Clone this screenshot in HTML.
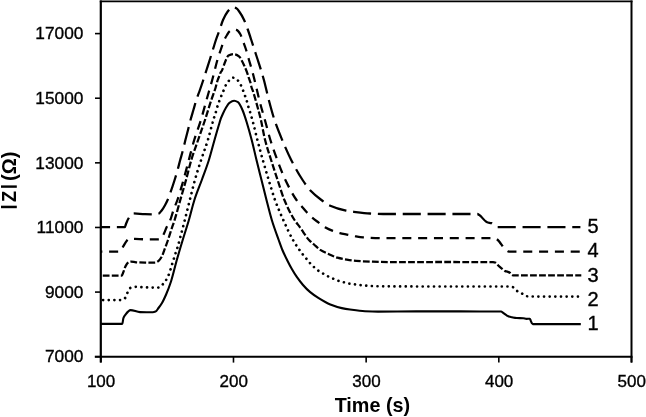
<!DOCTYPE html>
<html><head><meta charset="utf-8"><title>Impedance vs time</title><style>html,body{margin:0;padding:0;background:#fff;width:646px;height:417px;overflow:hidden}body{position:relative;font-family:"Liberation Sans", sans-serif}</style></head><body>
<svg width="646" height="417" viewBox="0 0 646 417" style="position:absolute;left:0;top:0;will-change:transform">
<defs><clipPath id="pc"><rect x="100.80" y="1.30" width="530.70" height="355.40"/></clipPath></defs>
<g clip-path="url(#pc)" fill="none" stroke="#000" stroke-linejoin="round">
<path d="M95.00,323.90 C104.10,323.90 113.20,323.90 122.30,323.90 C122.67,323.90 123.03,319.22 123.40,318.20 C123.97,316.62 124.53,315.84 125.10,315.10 C126.90,312.76 128.70,310.10 130.50,310.10 C133.67,310.10 136.83,312.05 140.00,312.10 C144.27,312.17 148.53,312.20 152.80,312.20 C153.70,312.20 154.60,311.93 155.50,311.60 C156.50,311.23 157.50,309.30 158.50,308.00 C159.67,306.48 160.83,304.97 162.00,303.00 C163.43,300.58 164.87,297.35 166.30,294.00 C167.87,290.34 169.43,286.32 171.00,281.50 C172.93,275.55 174.87,266.85 176.80,260.00 C178.77,253.03 180.73,246.50 182.70,240.00 C184.77,233.17 186.83,227.07 188.90,220.00 C190.73,213.72 192.57,205.73 194.40,200.00 C196.87,192.30 199.33,186.81 201.80,180.00 C204.17,173.47 206.53,167.49 208.90,160.00 C210.77,154.09 212.63,146.54 214.50,140.00 C216.00,134.74 217.50,129.47 219.00,124.50 C219.60,122.51 220.20,120.35 220.80,118.70 C221.50,116.78 222.20,115.22 222.90,113.70 C223.87,111.61 224.83,109.60 225.80,108.00 C227.00,106.01 228.20,103.73 229.40,102.90 C230.97,101.81 232.53,100.80 234.10,100.80 C235.40,100.80 236.70,101.43 238.00,102.20 C238.97,102.78 239.93,104.75 240.90,106.50 C241.63,107.83 242.37,109.64 243.10,111.50 C243.70,113.02 244.30,114.81 244.90,116.60 C245.50,118.39 246.10,120.31 246.70,122.30 C248.37,127.82 250.03,133.62 251.70,140.00 C253.30,146.13 254.90,153.47 256.50,160.00 C258.17,166.80 259.83,173.33 261.50,180.00 C263.17,186.67 264.83,193.53 266.50,200.00 C268.27,206.86 270.03,214.17 271.80,220.00 C274.10,227.58 276.40,233.59 278.70,240.00 C279.93,243.44 281.17,247.05 282.40,250.00 C284.00,253.83 285.60,257.01 287.20,260.20 C288.80,263.39 290.40,266.43 292.00,269.20 C293.60,271.97 295.20,274.59 296.80,276.90 C298.80,279.78 300.80,282.41 302.80,284.70 C305.17,287.41 307.53,289.91 309.90,291.90 C312.70,294.26 315.50,296.15 318.30,297.90 C322.30,300.41 326.30,302.91 330.30,304.50 C334.13,306.03 337.97,307.27 341.80,308.10 C344.53,308.69 347.27,309.12 350.00,309.50 C355.00,310.19 360.00,310.96 365.00,311.20 C369.33,311.41 373.67,311.60 378.00,311.60 C390.80,311.60 403.60,311.40 416.40,311.40 C430.93,311.40 445.47,311.40 460.00,311.40 C473.00,311.40 486.00,311.50 499.00,311.50 C499.73,311.50 500.47,311.50 501.20,311.50 C501.63,311.50 502.07,312.10 502.50,312.40 C504.10,313.52 505.70,314.85 507.30,315.80 C507.80,316.10 508.30,316.44 508.80,316.60 C509.87,316.95 510.93,317.11 512.00,317.30 C513.57,317.58 515.13,317.92 516.70,318.00 C518.90,318.12 521.10,318.07 523.30,318.20 C524.33,318.26 525.37,318.90 526.40,318.90 C527.57,318.90 528.73,318.70 529.90,318.70 C530.13,318.70 530.37,319.78 530.60,320.30 C531.07,321.34 531.53,322.73 532.00,323.30 C532.30,323.67 532.60,324.10 532.90,324.10 C535.27,324.10 537.63,324.10 540.00,324.10 C553.60,324.10 567.20,324.10 580.80,324.10" stroke-width="2.10"/>
<path d="M95.00,300.10 C103.67,300.10 112.33,300.10 121.00,300.10 C121.67,300.10 122.33,299.78 123.00,299.50 C123.73,299.19 124.47,298.72 125.20,297.90 C125.90,297.12 126.60,294.40 127.30,293.00 C128.27,291.07 129.23,288.43 130.20,288.00 C131.90,287.24 133.60,286.80 135.30,286.80 C138.53,286.80 141.77,287.19 145.00,287.30 C149.17,287.44 153.33,287.60 157.50,287.60 C158.33,287.60 159.17,287.32 160.00,287.00 C160.87,286.67 161.73,285.44 162.60,284.50 C163.70,283.30 164.80,282.00 165.90,280.30 C166.77,278.96 167.63,277.33 168.50,275.30 C169.60,272.73 170.70,268.64 171.80,265.20 C172.93,261.65 174.07,257.81 175.20,254.30 C176.03,251.72 176.87,249.55 177.70,246.80 C178.53,244.05 179.37,240.72 180.20,237.60 C181.73,231.86 183.27,226.00 184.80,220.00 C186.47,213.48 188.13,206.60 189.80,200.00 C191.50,193.27 193.20,186.04 194.90,180.00 C196.97,172.66 199.03,166.36 201.10,160.00 C203.37,153.02 205.63,147.46 207.90,140.00 C209.70,134.07 211.50,125.99 213.30,120.00 C214.10,117.34 214.90,115.27 215.70,112.60 C216.20,110.93 216.70,108.84 217.20,107.20 C217.80,105.23 218.40,103.48 219.00,101.80 C219.70,99.84 220.40,98.02 221.10,96.30 C221.83,94.50 222.57,92.96 223.30,91.20 C224.00,89.52 224.70,87.35 225.40,86.00 C226.43,84.00 227.47,82.32 228.50,81.20 C229.93,79.64 231.37,77.70 232.80,77.70 C234.37,77.70 235.93,78.87 237.50,80.10 C238.57,80.94 239.63,82.93 240.70,84.90 C241.43,86.25 242.17,88.15 242.90,90.00 C243.57,91.68 244.23,93.64 244.90,95.50 C245.50,97.18 246.10,98.66 246.70,100.60 C247.20,102.22 247.70,104.50 248.20,106.20 C248.77,108.13 249.33,109.66 249.90,111.50 C250.43,113.23 250.97,115.04 251.50,116.90 C252.00,118.64 252.50,120.42 253.00,122.30 C254.47,127.82 255.93,134.34 257.40,140.00 C259.20,146.95 261.00,153.62 262.80,160.00 C264.77,166.97 266.73,173.55 268.70,180.00 C270.80,186.89 272.90,194.21 275.00,200.00 C277.77,207.63 280.53,213.84 283.30,220.00 C286.53,227.20 289.77,234.43 293.00,240.00 C296.10,245.34 299.20,249.73 302.30,253.80 C303.60,255.50 304.90,256.93 306.20,258.50 C307.50,260.07 308.80,261.82 310.10,263.20 C312.73,266.00 315.37,268.59 318.00,270.50 C319.63,271.68 321.27,272.54 322.90,273.50 C324.57,274.48 326.23,275.47 327.90,276.30 C329.60,277.15 331.30,277.87 333.00,278.60 C334.80,279.37 336.60,280.22 338.40,280.80 C340.17,281.37 341.93,281.73 343.70,282.20 C345.47,282.67 347.23,283.28 349.00,283.60 C350.70,283.91 352.40,284.08 354.10,284.30 C357.40,284.73 360.70,285.26 364.00,285.50 C369.33,285.89 374.67,286.26 380.00,286.30 C400.00,286.45 420.00,286.50 440.00,286.50 C462.47,286.50 484.93,286.50 507.40,286.50 C509.27,286.50 511.13,286.77 513.00,287.20 C514.33,287.51 515.67,289.99 517.00,290.90 C518.63,292.01 520.27,292.53 521.90,293.50 C523.20,294.27 524.50,295.92 525.80,296.10 C527.63,296.35 529.47,296.49 531.30,296.50 C547.53,296.59 563.77,296.57 580.00,296.60" stroke-width="2.70" stroke-dasharray="0.01 5.64" stroke-dashoffset="3.20" stroke-linecap="round"/>
<path d="M95.00,275.70 C103.87,275.70 112.73,275.70 121.60,275.70 C121.83,275.70 122.07,275.19 122.30,274.80 C122.77,274.03 123.23,272.49 123.70,271.20 C124.10,270.09 124.50,268.56 124.90,267.60 C125.37,266.47 125.83,265.55 126.30,264.80 C126.80,264.00 127.30,263.21 127.80,262.80 C128.37,262.33 128.93,261.92 129.50,261.80 C130.00,261.69 130.50,261.60 131.00,261.60 C132.67,261.60 134.33,262.20 136.00,262.30 C139.00,262.47 142.00,262.55 145.00,262.60 C148.33,262.65 151.67,262.70 155.00,262.70 C156.13,262.70 157.27,261.82 158.40,261.00 C159.50,260.21 160.60,258.70 161.70,256.80 C162.57,255.30 163.43,252.39 164.30,250.10 C165.53,246.84 166.77,243.60 168.00,240.00 C169.07,236.89 170.13,233.23 171.20,230.00 C172.33,226.56 173.47,223.60 174.60,220.00 C176.50,213.96 178.40,206.67 180.30,200.00 C182.20,193.33 184.10,186.91 186.00,180.00 C187.77,173.57 189.53,165.87 191.30,160.00 C193.57,152.47 195.83,146.62 198.10,140.00 C200.40,133.28 202.70,126.97 205.00,120.00 C207.10,113.63 209.20,106.29 211.30,100.00 C212.70,95.80 214.10,92.54 215.50,88.00 C216.23,85.62 216.97,82.12 217.70,80.00 C218.23,78.46 218.77,77.52 219.30,76.10 C219.67,75.12 220.03,73.66 220.40,72.90 C220.87,71.94 221.33,71.58 221.80,70.70 C223.17,68.12 224.53,62.76 225.90,60.00 C226.77,58.25 227.63,56.03 228.50,55.60 C230.27,54.72 232.03,54.20 233.80,54.20 C235.63,54.20 237.47,55.22 239.30,56.60 C240.00,57.13 240.70,58.76 241.40,60.00 C242.40,61.78 243.40,63.78 244.40,66.00 C245.50,68.45 246.60,71.10 247.70,74.30 C248.07,75.37 248.43,76.78 248.80,77.90 C249.40,79.73 250.00,80.74 250.60,83.00 C250.83,83.88 251.07,85.62 251.30,86.50 C251.90,88.76 252.50,89.76 253.10,91.60 C253.93,94.15 254.77,97.06 255.60,100.00 C257.37,106.24 259.13,112.53 260.90,120.00 C262.30,125.92 263.70,134.45 265.10,140.00 C267.10,147.93 269.10,153.60 271.10,160.00 C273.27,166.94 275.43,173.48 277.60,180.00 C279.87,186.82 282.13,194.57 284.40,200.00 C287.77,208.07 291.13,214.75 294.50,220.00 C296.33,222.86 298.17,224.80 300.00,227.30 C303.00,231.39 306.00,236.77 309.00,240.00 C310.67,241.79 312.33,243.04 314.00,244.50 C316.10,246.35 318.20,248.56 320.30,249.90 C322.90,251.56 325.50,252.61 328.10,253.80 C331.20,255.22 334.30,256.85 337.40,257.70 C340.53,258.56 343.67,259.11 346.80,259.60 C349.93,260.09 353.07,260.54 356.20,260.80 C360.80,261.18 365.40,261.42 370.00,261.60 C376.00,261.83 382.00,262.10 388.00,262.10 C405.33,262.10 422.67,262.00 440.00,262.00 C457.67,262.00 475.33,262.01 493.00,262.10 C493.93,262.10 494.87,262.36 495.80,262.70 C496.70,263.03 497.60,264.93 498.50,265.80 C499.93,267.18 501.37,268.16 502.80,269.30 C503.57,269.91 504.33,270.84 505.10,271.10 C505.87,271.36 506.63,271.37 507.40,271.60 C508.20,271.84 509.00,272.25 509.80,272.80 C510.37,273.19 510.93,274.24 511.50,274.60 C512.00,274.92 512.50,275.28 513.00,275.30 C515.33,275.38 517.67,275.40 520.00,275.40 C540.43,275.40 560.87,275.40 581.30,275.40" stroke-width="2.26" stroke-dasharray="6.78 2.26" stroke-dashoffset="1.30"/>
<path d="M95.00,251.60 C103.33,251.60 111.67,251.60 120.00,251.60 C120.27,251.60 120.53,251.13 120.80,250.80 C121.57,249.86 122.33,248.00 123.10,246.70 C124.40,244.49 125.70,241.86 127.00,240.40 C127.43,239.91 127.87,239.37 128.30,239.20 C128.87,238.98 129.43,238.80 130.00,238.80 C131.67,238.80 133.33,238.86 135.00,238.90 C138.33,238.99 141.67,239.26 145.00,239.30 C149.60,239.36 154.20,239.40 158.80,239.40 C159.53,239.40 160.27,238.78 161.00,238.20 C162.00,237.41 163.00,235.41 164.00,233.50 C164.83,231.91 165.67,229.32 166.50,227.50 C167.77,224.74 169.03,223.08 170.30,220.00 C171.37,217.40 172.43,213.01 173.50,210.00 C174.80,206.33 176.10,203.71 177.40,200.00 C179.43,194.20 181.47,187.15 183.50,180.00 C185.27,173.79 187.03,166.60 188.80,160.00 C190.60,153.27 192.40,145.97 194.20,140.00 C196.43,132.59 198.67,127.28 200.90,120.00 C202.77,113.91 204.63,106.61 206.50,100.00 C208.40,93.27 210.30,86.98 212.20,80.00 C213.93,73.63 215.67,65.86 217.40,60.00 C218.43,56.51 219.47,53.51 220.50,50.50 C221.77,46.81 223.03,42.78 224.30,40.00 C225.20,38.03 226.10,36.48 227.00,35.00 C227.83,33.63 228.67,32.00 229.50,31.30 C230.67,30.31 231.83,29.30 233.00,29.30 C234.17,29.30 235.33,29.56 236.50,29.90 C237.83,30.29 239.17,32.23 240.50,34.50 C241.17,35.63 241.83,38.18 242.50,40.00 C243.67,43.19 244.83,45.92 246.00,49.50 C247.00,52.57 248.00,56.54 249.00,60.00 C250.17,64.04 251.33,67.69 252.50,72.00 C253.67,76.31 254.83,81.19 256.00,86.00 C257.10,90.53 258.20,95.70 259.30,100.00 C261.17,107.29 263.03,113.27 264.90,120.00 C266.73,126.61 268.57,134.06 270.40,140.00 C272.70,147.45 275.00,153.85 277.30,160.00 C280.00,167.22 282.70,174.33 285.40,180.00 C289.10,187.77 292.80,194.75 296.50,200.00 C298.20,202.41 299.90,204.18 301.60,206.20 C303.40,208.34 305.20,210.58 307.00,212.50 C308.83,214.46 310.67,216.33 312.50,217.90 C314.57,219.67 316.63,221.05 318.70,222.60 C320.80,224.18 322.90,226.09 325.00,227.30 C327.60,228.80 330.20,229.93 332.80,230.90 C335.13,231.77 337.47,232.51 339.80,233.10 C342.13,233.69 344.47,234.11 346.80,234.60 C349.40,235.15 352.00,235.77 354.60,236.20 C357.47,236.68 360.33,237.23 363.20,237.40 C371.47,237.88 379.73,238.20 388.00,238.20 C423.33,238.20 458.67,238.20 494.00,238.20 C494.50,238.20 495.00,238.36 495.50,238.50 C499.17,239.55 502.83,247.76 506.50,250.40 C507.00,250.76 507.50,251.21 508.00,251.30 C509.00,251.49 510.00,251.60 511.00,251.60 C534.00,251.69 557.00,251.67 580.00,251.70" stroke-width="2.26" stroke-dasharray="9.04 6.78" stroke-dashoffset="1.70"/>
<path d="M95.00,227.20 C104.90,227.20 114.80,227.20 124.70,227.20 C125.13,227.20 125.57,225.03 126.00,224.00 C126.77,222.19 127.53,220.14 128.30,218.80 C129.20,217.23 130.10,215.77 131.00,215.00 C131.87,214.26 132.73,213.40 133.60,213.40 C137.40,213.40 141.20,214.00 145.00,214.10 C148.80,214.20 152.60,214.30 156.40,214.30 C157.13,214.30 157.87,214.06 158.60,213.80 C159.73,213.39 160.87,211.50 162.00,210.00 C163.00,208.68 164.00,206.98 165.00,205.20 C165.87,203.66 166.73,201.97 167.60,200.00 C168.53,197.88 169.47,195.21 170.40,192.60 C171.80,188.68 173.20,184.46 174.60,180.00 C175.67,176.60 176.73,173.04 177.80,169.20 C178.60,166.32 179.40,162.93 180.20,160.00 C180.83,157.68 181.47,155.66 182.10,153.30 C182.83,150.57 183.57,147.59 184.30,144.60 C184.67,143.10 185.03,141.48 185.40,140.00 C186.27,136.51 187.13,133.40 188.00,130.00 C188.83,126.73 189.67,123.09 190.50,120.00 C191.47,116.41 192.43,113.33 193.40,110.00 C194.37,106.67 195.33,102.99 196.30,100.00 C197.50,96.29 198.70,93.43 199.90,90.00 C201.03,86.76 202.17,83.44 203.30,80.00 C204.37,76.77 205.43,73.33 206.50,70.00 C207.57,66.67 208.63,63.39 209.70,60.00 C210.73,56.72 211.77,53.33 212.80,50.00 C213.83,46.67 214.87,43.05 215.90,40.00 C217.13,36.36 218.37,33.48 219.60,30.00 C220.73,26.81 221.87,22.57 223.00,20.00 C224.57,16.45 226.13,13.56 227.70,11.50 C228.63,10.27 229.57,9.02 230.50,8.50 C231.67,7.84 232.83,7.20 234.00,7.20 C234.83,7.20 235.67,7.84 236.50,8.40 C237.40,9.01 238.30,10.28 239.20,11.50 C240.83,13.71 242.47,16.58 244.10,20.00 C245.27,22.44 246.43,25.78 247.60,29.00 C248.83,32.40 250.07,36.24 251.30,40.00 C252.37,43.25 253.43,46.72 254.50,50.00 C255.60,53.38 256.70,56.62 257.80,60.00 C258.87,63.28 259.93,66.50 261.00,70.00 C261.97,73.17 262.93,76.41 263.90,80.00 C265.53,86.06 267.17,93.82 268.80,100.00 C270.70,107.18 272.60,114.29 274.50,120.00 C277.07,127.72 279.63,133.84 282.20,140.00 C285.20,147.20 288.20,154.09 291.20,160.00 C295.00,167.49 298.80,174.26 302.60,180.00 C305.20,183.93 307.80,187.73 310.40,190.50 C314.07,194.41 317.73,197.25 321.40,200.00 C324.13,202.05 326.87,204.29 329.60,205.50 C335.07,207.92 340.53,209.52 346.00,210.60 C348.60,211.11 351.20,211.47 353.80,211.80 C359.20,212.49 364.60,213.26 370.00,213.50 C376.00,213.77 382.00,214.00 388.00,214.00 C417.77,214.00 447.53,214.00 477.30,214.00 C477.97,214.00 478.63,214.58 479.30,215.00 C481.63,216.45 483.97,220.43 486.30,221.80 C486.80,222.09 487.30,222.37 487.80,222.50 C488.97,222.81 490.13,222.75 491.30,223.10 C491.97,223.30 492.63,224.08 493.30,224.60 C494.13,225.24 494.97,226.25 495.80,226.60 C496.37,226.84 496.93,227.10 497.50,227.10 C501.67,227.10 505.83,227.10 510.00,227.10 C533.47,227.10 556.93,227.10 580.40,227.10" stroke-width="2.26" stroke-dasharray="18.08 6.78" stroke-dashoffset="3.00"/>
</g>
<g stroke="#000" fill="none">
<line x1="99.80" y1="1.30" x2="632.50" y2="1.30" stroke-width="1.7"/>
<line x1="631.50" y1="0.50" x2="631.50" y2="362.50" stroke-width="2"/>
<line x1="100.80" y1="0.50" x2="100.80" y2="362.50" stroke-width="2.2"/>
<line x1="94.80" y1="356.70" x2="632.50" y2="356.70" stroke-width="2"/>
<line x1="95.0" y1="356.70" x2="100.80" y2="356.70" stroke-width="1.6"/>
<line x1="95.0" y1="292.08" x2="100.80" y2="292.08" stroke-width="1.6"/>
<line x1="95.0" y1="227.46" x2="100.80" y2="227.46" stroke-width="1.6"/>
<line x1="95.0" y1="162.84" x2="100.80" y2="162.84" stroke-width="1.6"/>
<line x1="95.0" y1="98.22" x2="100.80" y2="98.22" stroke-width="1.6"/>
<line x1="95.0" y1="33.60" x2="100.80" y2="33.60" stroke-width="1.6"/>
<line x1="100.80" y1="356.70" x2="100.80" y2="362.6" stroke-width="1.6"/>
<line x1="233.48" y1="356.70" x2="233.48" y2="362.6" stroke-width="1.6"/>
<line x1="366.15" y1="356.70" x2="366.15" y2="362.6" stroke-width="1.6"/>
<line x1="498.82" y1="356.70" x2="498.82" y2="362.6" stroke-width="1.6"/>
<line x1="631.50" y1="356.70" x2="631.50" y2="362.6" stroke-width="1.6"/>
</g>
<g font-family='"Liberation Sans", sans-serif' fill="#000" stroke="#000" stroke-width="0.35">
<text x="83.40" y="362.40" font-size="17.3" text-anchor="end">7000</text>
<text x="83.40" y="297.78" font-size="17.3" text-anchor="end">9000</text>
<text x="83.40" y="233.16" font-size="17.3" text-anchor="end">11000</text>
<text x="83.40" y="168.54" font-size="17.3" text-anchor="end">13000</text>
<text x="83.40" y="103.92" font-size="17.3" text-anchor="end">15000</text>
<text x="83.40" y="39.30" font-size="17.3" text-anchor="end">17000</text>
<text x="101.10" y="386.90" font-size="17.0" text-anchor="middle">100</text>
<text x="233.78" y="386.90" font-size="17.0" text-anchor="middle">200</text>
<text x="366.45" y="386.90" font-size="17.0" text-anchor="middle">300</text>
<text x="499.12" y="386.90" font-size="17.0" text-anchor="middle">400</text>
<text x="631.80" y="386.90" font-size="17.0" text-anchor="middle">500</text>
<text x="587.60" y="233.00" font-size="20.0">5</text>
<text x="587.60" y="257.40" font-size="20.0">4</text>
<text x="587.60" y="281.60" font-size="20.0">3</text>
<text x="587.60" y="306.00" font-size="20.0">2</text>
<text x="587.60" y="329.50" font-size="20.0">1</text>
<text x="372.40" y="412.40" font-size="20.5" font-weight="bold" stroke="none" text-anchor="middle" textLength="75.5" lengthAdjust="spacingAndGlyphs">Time (s)</text>
<text transform="translate(16.00,166.30) rotate(-90)" font-size="20.0" font-weight="bold" stroke="none" text-anchor="middle">(Ω)</text>
<text transform="translate(16.00,196.55) rotate(-90)" font-size="19.7" font-weight="bold" stroke="none" text-anchor="middle" textLength="11.1" lengthAdjust="spacingAndGlyphs">Z</text>
<rect x="1.0" y="205.7" width="15.8" height="2.5" stroke="none"/>
<rect x="1.0" y="185.4" width="15.8" height="2.4" stroke="none"/>
</g>
</svg>
</body></html>
